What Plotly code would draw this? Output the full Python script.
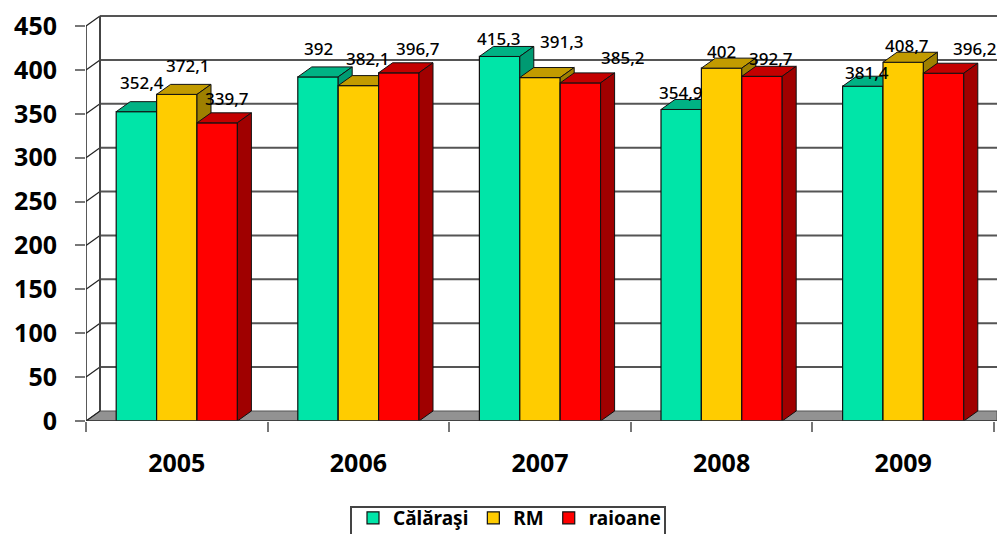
import plotly.graph_objects as go

years = ["2005", "2006", "2007", "2008", "2009"]
series_names = ["Călăraşi", "RM", "raioane"]
calarasi = [352.4, 392, 415.3, 354.9, 381.4]
rm = [372.1, 382.1, 391.3, 402, 408.7]
raioane = [339.7, 396.7, 385.2, 392.7, 396.2]
y_ticks = [0, 50, 100, 150, 200, 250, 300, 350, 400, 450]

# label offsets in pixels from the front top centre of each bar
label_dx = [[6, 0, -1, 0, 4], [11, 10, 22, 0, 4], [10, 19, 43, 9, 31]]
label_dy = [[29, 28, 18, 17, 14], [29, 27, 36, 17, 17], [24, 24, 25, 18, 25]]

fronts = ["#00E5A8", "#FFCC00", "#FF0000"]
tops = ["#00B284", "#C29B00", "#C40000"]
sides = ["#009A72", "#9E8000", "#A00000"]

W, H = 997, 534
left, floor_px, top_px = 86, 421, 14
px_per_cat = 181.6
px_per_unit = 395 / 450
x_max = (W - left) / px_per_cat
y_max = (floor_px - top_px) / px_per_unit
bar_w = 40.4 / px_per_cat
dx = 14 / px_per_cat
dy = 10 / px_per_unit
FONT = "Noto Sans"
LEGEND_BOX = (351, 507, 665, 545)

fig = go.Figure()
all_series = [calarasi, rm, raioane]


def poly(points_list):
    xs, ys = [], []
    for pts in points_list:
        xs += [p[0] for p in pts] + [pts[0][0], None]
        ys += [p[1] for p in pts] + [pts[0][1], None]
    return xs, ys


annotations = []
for s, (name, vals) in enumerate(zip(series_names, all_series)):
    suffix = "" if s == 0 else str(s + 1)
    xa, ya = "x" + suffix, "y" + suffix
    centers = [i + 0.5 + (s - 1) * bar_w for i in range(len(years))]
    fig.add_bar(x=centers, y=vals, width=bar_w, name=name, xaxis=xa, yaxis=ya,
                marker=dict(color=fronts[s], line=dict(color="#111111", width=1.2)),
                hoverinfo="name+y")
    top_polys = [[(c - bar_w / 2, v), (c + bar_w / 2, v), (c + bar_w / 2 + dx, v + dy),
                  (c - bar_w / 2 + dx, v + dy)] for c, v in zip(centers, vals)]
    side_polys = [[(c + bar_w / 2, 0), (c + bar_w / 2 + dx, dy), (c + bar_w / 2 + dx, v + dy),
                   (c + bar_w / 2, v)] for c, v in zip(centers, vals)]
    for polys, col in ((top_polys, tops[s]), (side_polys, sides[s])):
        px, py = poly(polys)
        fig.add_scatter(x=px, y=py, mode="lines", fill="toself", fillcolor=col,
                        line=dict(color="#111111", width=1), xaxis=xa, yaxis=ya,
                        showlegend=False, hoverinfo="skip")
    for i, (c, v) in enumerate(zip(centers, vals)):
        annotations.append(dict(x=c, y=v, xref="x", yref="y", showarrow=False,
                                text=str(v).replace(".", ","),
                                xshift=label_dx[s][i], yshift=label_dy[s][i],
                                font=dict(family=FONT, size=17, color="#000000", weight=500)))

# walls and floor, built from the axis ticks
shapes = [dict(type="path", layer="below", xref="x", yref="y",
               path=f"M0,0 L{dx},{dy} L{x_max},{dy} L{x_max},0 Z",
               fillcolor="#929292", line=dict(color="#555555", width=1))]
for t in y_ticks:
    if t:
        shapes.append(dict(type="line", layer="below", xref="x", yref="y", x0=dx, x1=x_max,
                           y0=t + dy, y1=t + dy, line=dict(color="#555555", width=2)))
    shapes.append(dict(type="line", layer="below", xref="x", yref="y", x0=0, x1=dx,
                       y0=t, y1=t + dy, line=dict(color="#222222", width=1.2)))
shapes.append(dict(type="line", layer="below", xref="x", yref="y", x0=0, x1=0,
                   y0=0, y1=y_ticks[-1], line=dict(color="#222222", width=1.5)))
shapes.append(dict(type="line", layer="below", xref="x", yref="y", x0=dx, x1=dx,
                   y0=dy, y1=y_ticks[-1] + dy, line=dict(color="#444444", width=2)))
shapes.append(dict(type="line", layer="above", xref="x", yref="y", x0=0, x1=x_max,
                   y0=0, y1=0, line=dict(color="#333333", width=1.5)))
# legend frame, running past the lower page edge as in the source
shapes.append(dict(type="rect", layer="above", xref="paper", yref="paper",
                   x0=(LEGEND_BOX[0] - left) / (W - left), x1=(LEGEND_BOX[2] - left) / (W - left),
                   y0=(floor_px - LEGEND_BOX[3]) / (floor_px - top_px),
                   y1=(floor_px - LEGEND_BOX[1]) / (floor_px - top_px),
                   line=dict(color="#444444", width=2)))

hidden = dict(range=[0, x_max], visible=False, overlaying="x", fixedrange=True)
hidden_y = dict(range=[0, y_max], visible=False, overlaying="y", anchor="x", fixedrange=True)

fig.update_layout(
    width=W, height=H,
    margin=dict(l=left, r=0, t=top_px, b=H - floor_px, autoexpand=False),
    paper_bgcolor="white", plot_bgcolor="white",
    barmode="overlay",
    showlegend=True,
    legend=dict(orientation="h", x=(353 - left) / (W - left),
                xanchor="left", y=(floor_px - 499) / (floor_px - top_px), yanchor="top",
                borderwidth=0, bgcolor="rgba(0,0,0,0)",
                font=dict(family=FONT, size=19, color="#000000", weight=700),
                traceorder="normal"),
    xaxis=dict(range=[0, x_max], tickmode="array", tickvals=list(range(len(years) + 1)),
               ticktext=[""] * (len(years) + 1), ticks="outside", ticklen=10, tickwidth=1.5,
               tickcolor="#777777", showgrid=False, zeroline=False, showline=False, fixedrange=True),
    yaxis=dict(range=[0, y_max], tickmode="array", tickvals=y_ticks,
               ticks="outside", ticklen=10, tickwidth=1.5, tickcolor="#777777",
               ticklabelstandoff=13, showgrid=False, zeroline=False, showline=False, fixedrange=True,
               tickfont=dict(family=FONT, size=25, color="#000000", weight=700)),
    xaxis2=hidden,
    yaxis2=hidden_y | dict(anchor="x2"),
    xaxis3=dict(range=[0, x_max], overlaying="x", fixedrange=True, tickmode="array",
                tickvals=[i + 0.5 for i in range(len(years))], ticktext=years,
                ticks="outside", ticklen=20, tickcolor="rgba(0,0,0,0)",
                showgrid=False, zeroline=False, showline=False, anchor="y3",
                tickfont=dict(family=FONT, size=25, color="#000000", weight=700)),
    yaxis3=hidden_y | dict(anchor="x3"),
    shapes=shapes,
    annotations=annotations,
)

fig.write_html("out.html", config=dict(displayModeBar=False),
               post_script="document.body.style.margin='0';document.body.style.overflow='hidden';")
